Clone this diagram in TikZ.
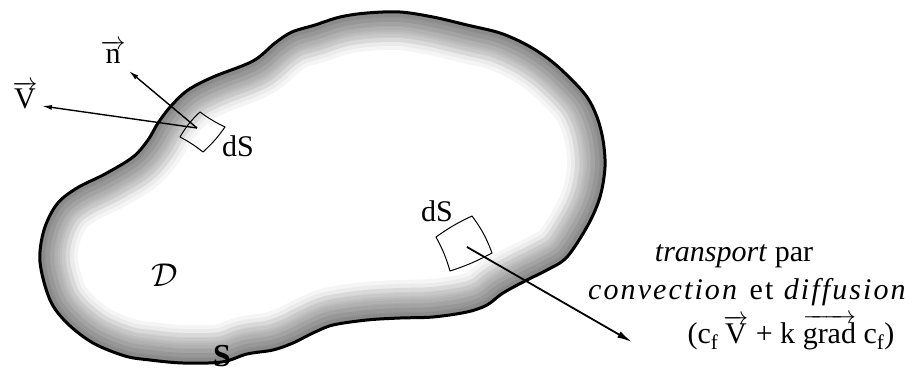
\documentclass[tikz,border=0pt]{standalone}
\usepackage{fontspec}
\setmainfont{Liberation Serif}
\usetikzlibrary{arrows.meta}
\newcommand{\vect}[1]{\ensuremath{\overrightarrow{\hbox{#1}}}}

\begin{document}
\begin{tikzpicture}[x=1pt, y=-1pt,
  lab/.style={font=\fontsize{30}{34}\selectfont, inner sep=0pt},
  vecarrow/.style={line width=1.4pt, -{Latex[length=10pt,width=5pt]}},
  flux/.style={line width=1.8pt, -{Latex[length=15pt,width=7pt]}},
  patch/.style={line width=1pt, line join=round}]
  \useasboundingbox (0,0) rectangle (923,374);

  \path[save path=\blobline] plot[smooth cycle, tension=0.55] coordinates {
    (40,262) (44,230) (57,204) (77,188) (105,174) (133,157) (148,140)
    (158,123) (171,106) (188,90) (213,77) (253,61) (275,43) (292,32)
    (315,25) (340,17) (367,13) (400,12) (433,17) (467,25) (500,33)
    (527,45) (550,60) (570,78) (587,97) (597,117) (603,140) (605,167)
    (600,197) (588,225) (567,257) (547,270) (527,280) (503,293) (487,305)
    (467,312) (433,317) (400,318) (367,320) (333,325) (313,333) (293,343)
    (273,350) (247,354) (222,362) (183,363) (150,360) (125,356) (93,343)
    (67,323) (50,300)};

  \begin{scope}
    \clip[use path=\blobline];
    \foreach \w in {76,68,...,4}
      \draw[black, opacity=0.04, line width=\w pt, use path=\blobline];
    \begin{scope}[xshift=-14pt, yshift=-6pt]
      \foreach \w in {60,50,...,10}
        \draw[black, opacity=0.04, line width=\w pt, use path=\blobline];
    \end{scope}
  \end{scope}
  \draw[line width=3pt, line join=round, use path=\blobline];

  \draw[patch] (180,137) to[bend left=8] (200,112) to[bend right=5] (225,127)
    to[bend left=6] (203,152) to[bend right=5] cycle;
  \draw[patch] (436,237) to[bend left=5] (472,216) to[bend left=8] (492,253)
    to[bend left=5] (450,271) to[bend right=6] cycle;

  \node[lab] (nlab) at (113,52) {\vect{n}};
  \node[lab] (vlab) at (25,95) {\vect{V}};
  \node[lab] (dsA) at (238,146) {dS};
  \node[lab] (dsB) at (437,211) {dS};
  \node[inner sep=0pt, font=\normalsize, scale=3.3] (dom) at (165,275) {$\mathcal{D}$};
  \node[lab, font=\fontsize{32}{36}\selectfont\bfseries] (bord) at (222,356) {S};

  \node[lab, anchor=base] (tline) at (734,261) {\textit{transport} par};
  \node[lab, anchor=base] (cline) at (748,299)
    {\addfontfeatures{LetterSpace=7}\textit{convection}\hspace{0.35em}et\hspace{0.35em}\textit{diffusion}};
  \node[lab, anchor=base] (fline) at (791,343)
    {(c\textsubscript{f}\,\vect{V} + k \vect{grad} c\textsubscript{f})};

  \coordinate (pA) at (197,128);
  \coordinate (ntip) at (129,71);
  \coordinate (vtip) at (42,106);
  \coordinate (pB) at (467,247);
  \coordinate (ftip) at (632,342);
  \draw[vecarrow] (pA) -- (ntip);
  \draw[vecarrow] (pA) -- (vtip);
  \draw[flux] (pB) -- (ftip);
\end{tikzpicture}
\end{document}
